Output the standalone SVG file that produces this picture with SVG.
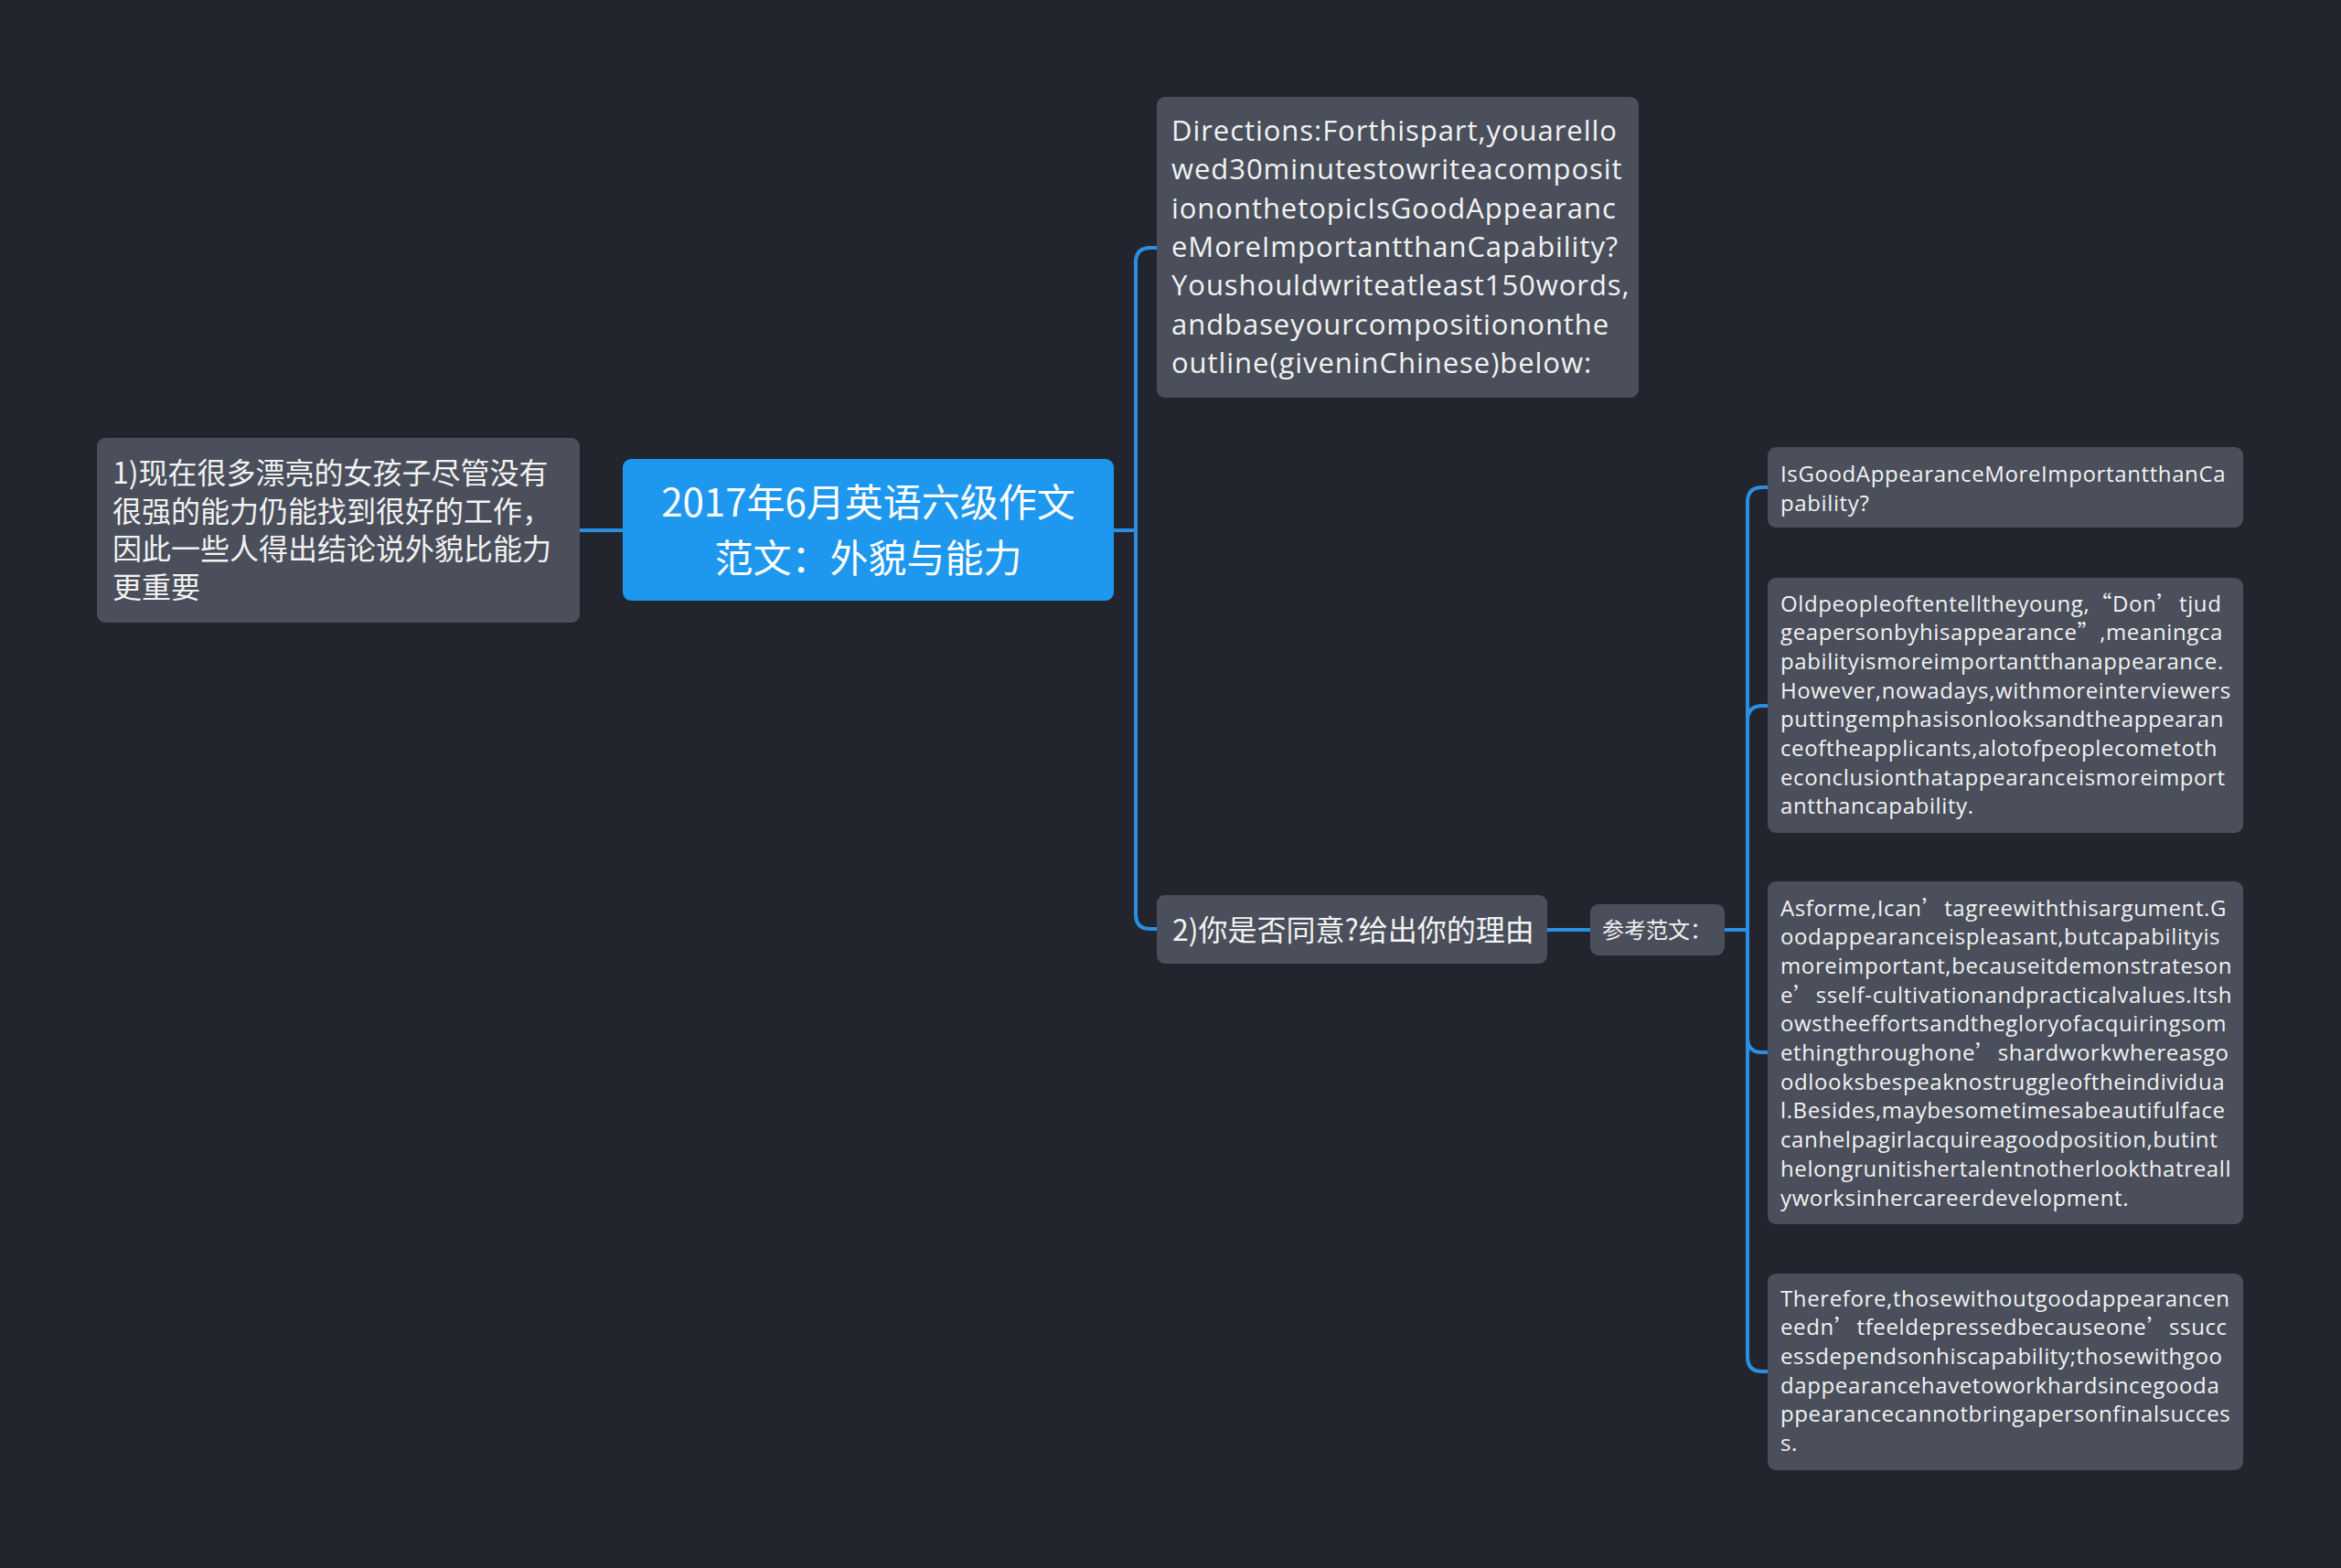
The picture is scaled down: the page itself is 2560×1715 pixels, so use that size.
<svg xmlns="http://www.w3.org/2000/svg" width="2560" height="1715" viewBox="0 0 2560 1715">
<style>
.bg{fill:#22252e}
.node{fill:#4a4f5b}
.root{fill:#1e97ef}
.conn{fill:none;stroke:#2a8fe2;stroke-width:4;stroke-linecap:round}
.cjk{font-family:"Noto Sans CJK SC","Noto Sans",sans-serif;fill:#f2f2f2}
.rt{font-family:"Noto Sans CJK SC","Noto Sans",sans-serif;fill:#ffffff;font-size:42px;text-anchor:middle}
.en{font-family:"Open Sans","Noto Sans CJK SC",sans-serif;fill:#f2f2f2}
.big{font-size:31px;letter-spacing:0.95px}
.sm{font-size:24px;letter-spacing:0.62px}
.q{font-family:"Noto Sans CJK SC",sans-serif}
</style>
<rect class="bg" x="0" y="0" width="2560" height="1715"/>
<g id="connectors">
<path class="conn" d="M681,580 H634"/>
<path class="conn" d="M1218,580 H1242 V287 Q1242,271 1258,271 H1265"/>
<path class="conn" d="M1218,580 H1242 V1000 Q1242,1016 1258,1016 H1265"/>
<path class="conn" d="M1692,1017 H1739"/>
<path class="conn" d="M1886,1017 H1911 V549 Q1911,533 1927,533 H1933"/>
<path class="conn" d="M1886,1017 H1911 V788 Q1911,772 1927,772 H1933"/>
<path class="conn" d="M1886,1017 H1911 V1135 Q1911,1151 1927,1151 H1933"/>
<path class="conn" d="M1886,1017 H1911 V1484 Q1911,1500 1927,1500 H1933"/>
</g>
<g id="root">
<rect class="root" x="681" y="502" width="537" height="155" rx="9"/>
<text class="rt" x="949.5" y="565">2017年6月英语六级作文</text>
<text class="rt" x="949.5" y="626">范文：外貌与能力</text>
</g>
<g id="node-left">
<rect class="node" x="106" y="479" width="528" height="202" rx="9"/>
<text class="cjk" font-size="32"><tspan x="123" y="529">1)现在很多漂亮的女孩子尽管没有</tspan><tspan x="123" y="570.5">很强的能力仍能找到很好的工作，</tspan><tspan x="123" y="612">因此一些人得出结论说外貌比能力</tspan><tspan x="123" y="653.5">更重要</tspan></text>
</g>
<g id="node-directions">
<rect class="node" x="1265" y="106" width="527" height="329" rx="9"/>
<text class="en big"><tspan x="1281" y="154">Directions:Forthispart,youarello</tspan><tspan x="1281" y="196.3">wed30minutestowriteacomposit</tspan><tspan x="1281" y="238.6">iononthetopicIsGoodAppearanc</tspan><tspan x="1281" y="280.9">eMoreImportantthanCapability?</tspan><tspan x="1281" y="323.2">Youshouldwriteatleast150words,</tspan><tspan x="1281" y="365.5">andbaseyourcompositiononthe</tspan><tspan x="1281" y="407.8">outline(giveninChinese)below:</tspan></text>
</g>
<g id="node-q2">
<rect class="node" x="1265" y="979" width="427" height="75" rx="9"/>
<text class="cjk" font-size="32" x="1282" y="1029">2)你是否同意?给出你的理由</text>
</g>
<g id="node-ref">
<rect class="node" x="1739" y="989" width="147" height="56" rx="9"/>
<text class="cjk" font-size="24" x="1752" y="1026">参考范文：</text>
</g>
<g id="node-a">
<rect class="node" x="1933" y="489" width="520" height="88" rx="9"/>
<text class="en sm"><tspan x="1947" y="527">IsGoodAppearanceMoreImportantthanCa</tspan><tspan x="1947" y="558.7">pability?</tspan></text>
</g>
<g id="node-b">
<rect class="node" x="1933" y="632" width="520" height="279" rx="9"/>
<text class="en sm"><tspan x="1947" y="668.5">Oldpeopleoftentelltheyoung,<tspan class="q">“</tspan>Don<tspan class="q">’</tspan>tjud</tspan><tspan x="1947" y="700.2">geapersonbyhisappearance<tspan class="q">”</tspan>,meaningca</tspan><tspan x="1947" y="731.9">pabilityismoreimportantthanappearance.</tspan><tspan x="1947" y="763.6">However,nowadays,withmoreinterviewers</tspan><tspan x="1947" y="795.3">puttingemphasisonlooksandtheappearan</tspan><tspan x="1947" y="827">ceoftheapplicants,alotofpeoplecometoth</tspan><tspan x="1947" y="858.7">econclusionthatappearanceismoreimport</tspan><tspan x="1947" y="890.4">antthancapability.</tspan></text>
</g>
<g id="node-c">
<rect class="node" x="1933" y="964" width="520" height="375" rx="9"/>
<text class="en sm"><tspan x="1947" y="1001.5">Asforme,Ican<tspan class="q">’</tspan>tagreewiththisargument.G</tspan><tspan x="1947" y="1033.2">oodappearanceispleasant,butcapabilityis</tspan><tspan x="1947" y="1064.9">moreimportant,becauseitdemonstrateson</tspan><tspan x="1947" y="1096.6">e<tspan class="q">’</tspan>sself-cultivationandpracticalvalues.Itsh</tspan><tspan x="1947" y="1128.3">owstheeffortsandthegloryofacquiringsom</tspan><tspan x="1947" y="1160">ethingthroughone<tspan class="q">’</tspan>shardworkwhereasgo</tspan><tspan x="1947" y="1191.7">odlooksbespeaknostruggleoftheindividua</tspan><tspan x="1947" y="1223.4">l.Besides,maybesometimesabeautifulface</tspan><tspan x="1947" y="1255.1">canhelpagirlacquireagoodposition,butint</tspan><tspan x="1947" y="1286.8">helongrunitishertalentnotherlookthatreall</tspan><tspan x="1947" y="1318.5">yworksinhercareerdevelopment.</tspan></text>
</g>
<g id="node-d">
<rect class="node" x="1933" y="1393" width="520" height="215" rx="9"/>
<text class="en sm"><tspan x="1947" y="1428.5">Therefore,thosewithoutgoodappearancen</tspan><tspan x="1947" y="1460.2">eedn<tspan class="q">’</tspan>tfeeldepressedbecauseone<tspan class="q">’</tspan>ssucc</tspan><tspan x="1947" y="1491.9">essdependsonhiscapability;thosewithgoo</tspan><tspan x="1947" y="1523.6">dappearancehavetoworkhardsincegooda</tspan><tspan x="1947" y="1555.3">ppearancecannotbringapersonfinalsucces</tspan><tspan x="1947" y="1587">s.</tspan></text>
</g>
</svg>
